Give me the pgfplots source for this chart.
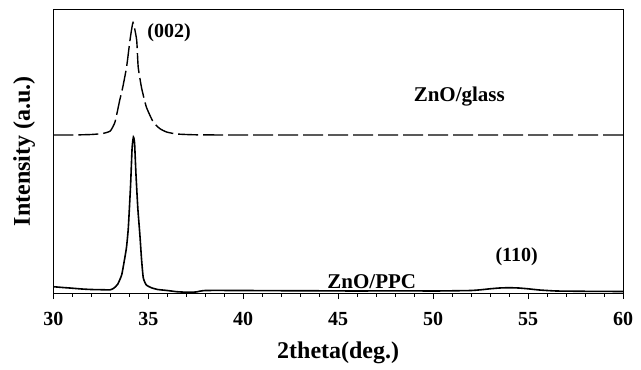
\documentclass[border=0pt]{standalone}
\usepackage{pgfplots}
\pgfplotsset{compat=1.18}
\usepackage{fontspec}
\setmainfont{Liberation Serif}
\begin{document}
\begin{tikzpicture}
\useasboundingbox (-53.3bp,-77bp) rectangle (587.7bp,293bp);
\begin{axis}[
  at={(0,0)}, anchor=south west,
  scale only axis, width=569.7bp, height=283.7bp,
  xmin=30, xmax=60, ymin=0, ymax=283.7,
  xtick={30,35,...,60}, minor x tick num=4,
  ytick=\empty,
  xtick pos=bottom, tick align=outside,
  major tick length=6bp, minor tick length=3.5bp,
  axis line style={line width=0.9bp},
  every tick/.style={black, line width=0.9bp},
  xticklabel style={font=\fontsize{20bp}{24bp}\selectfont\bfseries, yshift=-10bp},
  /pgf/number format/assume math mode=true,
  xlabel={2theta(deg.)},
  ylabel={Intensity (a.u.)},
  xlabel style={font=\fontsize{24bp}{28bp}\selectfont\bfseries, at={(axis description cs:0.5,-0.2115)}, anchor=center},
  ylabel style={font=\fontsize{24bp}{28bp}\selectfont\bfseries, at={(axis description cs:-0.051,0.5)}, anchor=center},
  clip=false,
]
\addplot[black, line width=1.6bp, smooth, tension=0.3] coordinates {
(30,6.3) (30.5,5.5) (31,4.8) (31.5,4) (32,3.5) (32.5,3.3) (33,3.2) (33.2,5) (33.4,9)
(33.6,18) (33.7,28) (33.85,45) (33.95,65) (34.07,108) (34.15,145) (34.22,156) (34.28,150)
(34.35,120) (34.45,85) (34.56,58) (34.65,33) (34.74,15) (34.9,8) (35.2,5) (35.5,3.5)
(36,2.5) (36.5,1.3) (37,0.8) (37.5,1) (38,2.5) (40,2.5) (42,2.3) (44,2.2) (46,2.0)
(48,2.2) (50,2.0) (51,2.2) (52,2.5) (52.5,3.2) (53,4.2) (53.5,5) (54,5.3) (54.5,5)
(55,4.2) (55.6,3) (56.5,2) (58,1.7) (60,1.5)
};
\addplot[black, line width=1.4bp, dash pattern=on 20bp off 5bp, smooth, tension=0.3] coordinates {
(30,158) (31,158) (32,158.5) (32.6,159.5) (33.0,162) (33.25,171) (33.5,193) (33.65,205)
(33.86,226) (34.04,253) (34.2,270.5) (34.39,253) (34.47,226) (34.65,205) (34.9,186)
(35.26,171) (35.6,164.5) (35.96,161) (36.5,159) (37.5,158.2) (40,158) (60,158)
};
\node[font=\fontsize{20bp}{24bp}\selectfont\bfseries] at (axis cs:36.1,260) {(002)};
\node[font=\fontsize{21bp}{25bp}\selectfont\bfseries] at (axis cs:51.38,196) {ZnO/glass};
\node[font=\fontsize{21bp}{25bp}\selectfont\bfseries] at (axis cs:46.77,11) {ZnO/PPC};
\node[font=\fontsize{20bp}{24bp}\selectfont\bfseries] at (axis cs:54.4,36) {(110)};
\end{axis}
\end{tikzpicture}
\end{document}
